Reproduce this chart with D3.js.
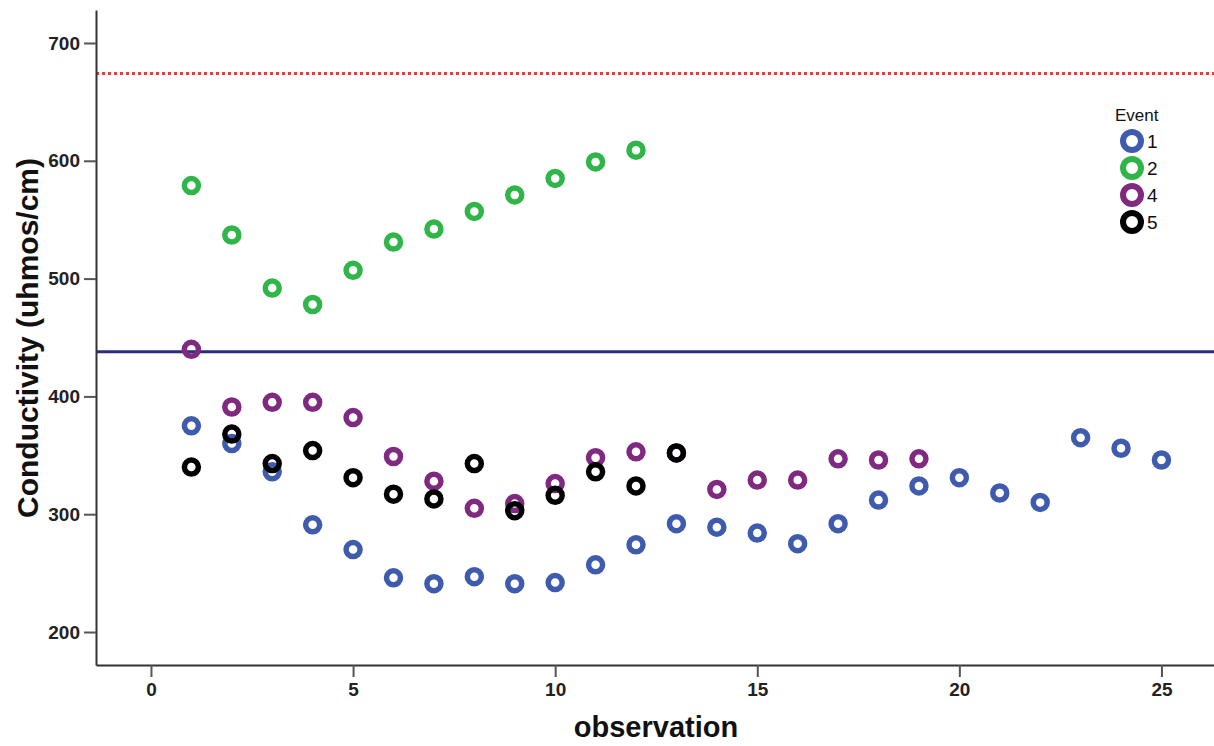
<!DOCTYPE html>
<html>
<head>
<meta charset="utf-8">
<script src="https://cdn.jsdelivr.net/npm/d3@7"></script>
<style>
body { margin: 0; background: #fff; }
.tick text { font-family: "Liberation Sans", Arial, sans-serif; font-weight: bold; font-size: 19px; fill: #222; }
</style>
</head>
<body>
<div class="container"></div>
<script>
const W = 1214, H = 746;
const LEFT = 96, RIGHT = 1214, TOP = 10, BOTTOM = 665;

// data
const events = ["1", "2", "4", "5"];
const colors = ["#3f5bae", "#2fb548", "#7f2a80", "#000000"];
const event1 = [375, 360, 336, 291, 270, 246, 241, 247, 241, 242, 257, 274, 292, 289, 284, 275, 292, 312, 324, 331, 318, 310, 365, 356, 346];
const event2 = [579, 537, 492, 478, 507, 531, 542, 557, 571, 585, 599, 609];
const event4 = [440, 391, 395, 395, 382, 349, 328, 305, 309, 326, 348, 353, 352, 321, 329, 329, 347, 346, 347];
const event5 = [340, 368, 343, 354, 331, 317, 313, 343, 303, 316, 336, 324, 352];
const seriesValues = [event1, event2, event4, event5];
const xTicks = [0, 5, 10, 15, 20, 25];
const yTicks = [200, 300, 400, 500, 600, 700];
const upperLimit = 674;
const meanLine = 438;

var svg = d3.select(".container").append("svg")
    .attr("width", W)
    .attr("height", H);

var x = d3.scaleLinear().domain([-1.36, 26.3]).range([LEFT, RIGHT]);
var y = d3.scaleLinear().domain([172, 728]).range([BOTTOM, TOP]);

// reference lines
svg.append("line")
    .attr("x1", LEFT).attr("x2", RIGHT)
    .attr("y1", y(upperLimit)).attr("y2", y(upperLimit))
    .attr("stroke", "#f03a3a")
    .attr("stroke-width", 3)
    .attr("stroke-dasharray", "3,3");

svg.append("line")
    .attr("x1", LEFT).attr("x2", RIGHT)
    .attr("y1", y(meanLine)).attr("y2", y(meanLine))
    .attr("stroke", "#2b2b7f")
    .attr("stroke-width", 3);

// axes
var xAxis = svg.append("g")
    .attr("transform", "translate(0," + BOTTOM + ")")
    .call(d3.axisBottom(x).tickValues(xTicks).tickSize(12).tickPadding(6).tickSizeOuter(0));
var yAxis = svg.append("g")
    .attr("transform", "translate(" + LEFT + ",0)")
    .call(d3.axisLeft(y).tickValues(yTicks).tickSize(12).tickPadding(4).tickSizeOuter(0));

[xAxis, yAxis].forEach(function(a){
    a.select(".domain").attr("stroke", "#333").attr("stroke-width", 2);
    a.selectAll(".tick line").attr("stroke", "#555").attr("stroke-width", 2);
});

// points
seriesValues.forEach(function(vals, i){
    svg.append("g").selectAll("circle")
        .data(vals)
        .join("circle")
        .attr("cx", function(d, j){ return x(j + 1); })
        .attr("cy", function(d){ return y(d); })
        .attr("r", 7)
        .attr("fill", "none")
        .attr("stroke", colors[i])
        .attr("stroke-width", 5.5);
});

// axis titles
svg.append("text")
    .attr("x", 656)
    .attr("y", 737)
    .attr("text-anchor", "middle")
    .style("font-family", "Liberation Sans, Arial, sans-serif")
    .style("font-weight", "bold")
    .style("font-size", "29px")
    .attr("fill", "#111")
    .text("observation");

svg.append("text")
    .attr("transform", "translate(38," + 338 + ") rotate(-90)")
    .attr("text-anchor", "middle")
    .style("font-family", "Liberation Sans, Arial, sans-serif")
    .style("font-weight", "bold")
    .style("font-size", "30px")
    .attr("fill", "#111")
    .text("Conductivity (uhmos/cm)");

// legend
var legend = svg.append("g");
legend.append("text")
    .attr("x", 1115).attr("y", 121)
    .style("font-family", "Liberation Sans, Arial, sans-serif")
    .style("font-size", "17px")
    .attr("fill", "#111")
    .text("Event");
events.forEach(function(ev, i){
    var cy = 141 + i * 27;
    legend.append("circle")
        .attr("cx", 1132).attr("cy", cy)
        .attr("r", 9)
        .attr("fill", "none")
        .attr("stroke", colors[i])
        .attr("stroke-width", 6);
    legend.append("text")
        .attr("x", 1147).attr("y", cy + 7)
        .style("font-family", "Liberation Sans, Arial, sans-serif")
        .style("font-size", "19px")
        .attr("fill", "#111")
        .text(ev);
});
</script>
</body>
</html>
